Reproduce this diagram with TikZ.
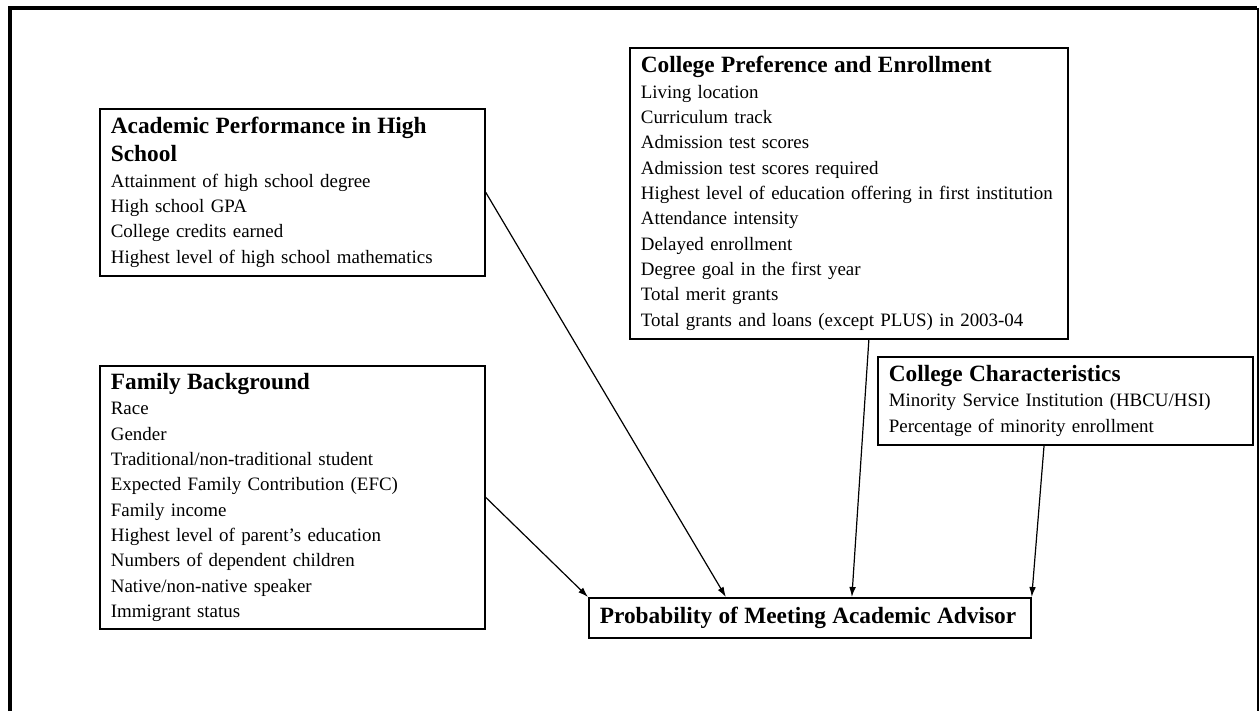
\documentclass[tikz,border=0pt]{standalone}
\usepackage{fontspec}
\setmainfont{Liberation Serif}[WordSpace=1.6]
\usetikzlibrary{positioning, arrows.meta}

\newcommand{\boxhead}[1]{{\fontsize{17.5}{19}\selectfont\bfseries #1}}

\begin{document}
\begin{tikzpicture}[x=0.75pt, y=-0.75pt,
    factor/.style={draw, line width=1.3pt, rectangle, align=left, anchor=north west, inner xsep=8.25pt, inner ysep=0pt, font=\fontsize{14.2}{19}\selectfont},
    link/.style={-{Latex[length=7.5pt, width=5pt]}, line width=0.9pt}]
    \useasboundingbox (0,0) rectangle (1260,711);
    \draw [line width=3pt] (10,711) -- (10,8) -- (1257,8);
    \draw [line width=0.9pt] (1258,8) -- (1258,711);
    \node (ap) [factor, text width=272.25pt, minimum height=125.25pt] at (99,108) {\boxhead{Academic Performance in High\\[2pt]School}\\Attainment of high school degree\\High school GPA\\College credits earned\\Highest level of high school mathematics};
    \node (fb) [factor, text width=272.25pt, minimum height=197.25pt] at (99,365) {\boxhead{Family Background}\\Race\\Gender\\Traditional/non-traditional student\\Expected Family Contribution (EFC)\\Family income\\Highest level of parent's education\\Numbers of dependent children\\Native/non-native speaker\\Immigrant status};
    \node (cp) [factor, text width=312pt, minimum height=218.25pt] at (629,47) {\boxhead{College Preference and Enrollment}\\Living location\\Curriculum track\\Admission test scores\\Admission test scores required\\Highest level of education offering in first institution\\Attendance intensity\\Delayed enrollment\\Degree goal in the first year\\Total merit grants\\Total grants and loans (except PLUS) in 2003-04};
    \node (cc) [factor, text width=264.75pt, minimum height=66pt] at (877,356) {\boxhead{College Characteristics}\\Minority Service Institution (HBCU/HSI)\\Percentage of minority enrollment};
    \node (prob) [factor, text width=315pt, minimum height=30pt] at (588,597) {\boxhead{Probability of Meeting Academic Advisor}};
    \draw [link] (fb.east) -- (prob.north west);
    \draw [link] (ap.east) -- ([xshift=-63pt]prob.north);
    \draw [link] ([xshift=15pt]cp.south) -- ([xshift=31.5pt]prob.north);
    \draw [link] ([xshift=-16pt]cc.south) -- (prob.north east);
\end{tikzpicture}
\end{document}
